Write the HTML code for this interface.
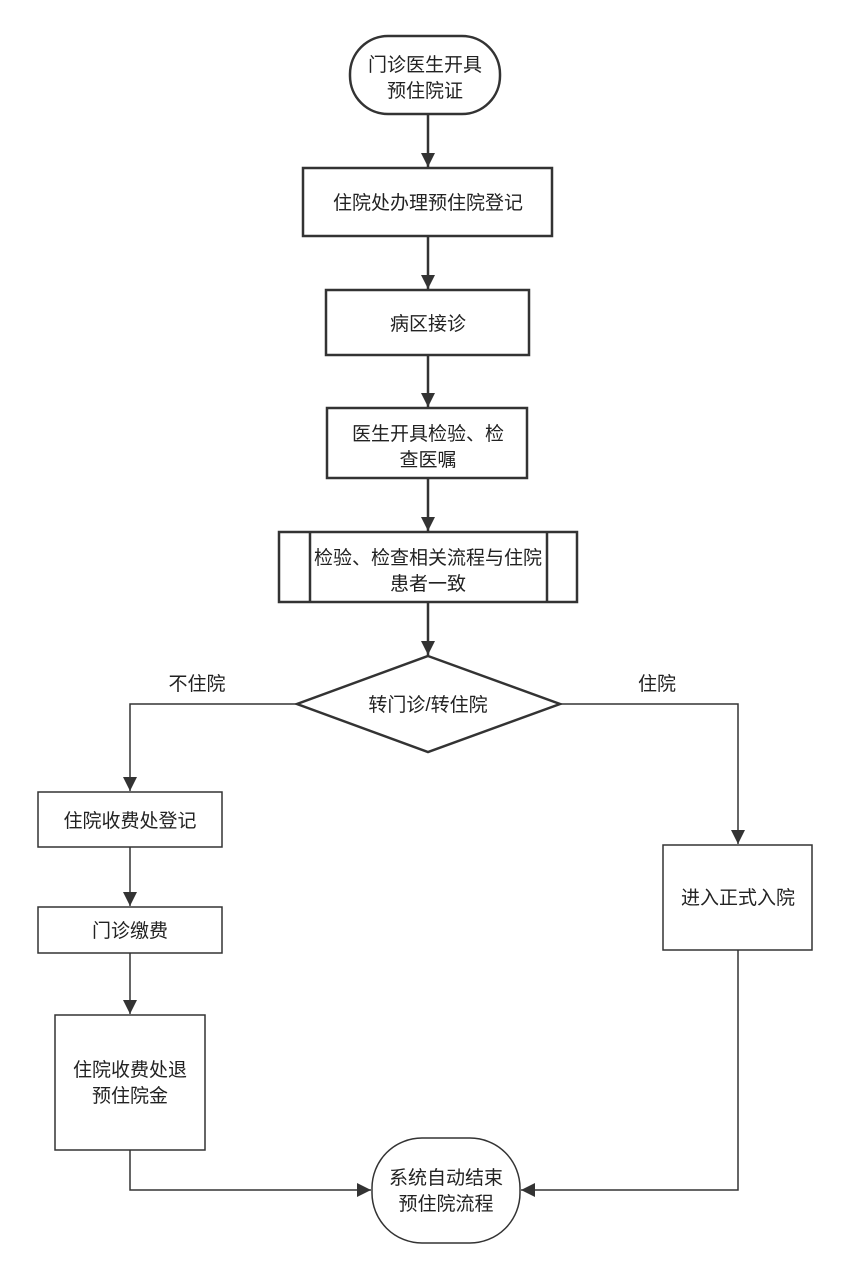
<!DOCTYPE html>
<html><head><meta charset="utf-8"><style>
html,body{margin:0;padding:0;background:#fff;}
text{font-family:"Liberation Sans","Noto Sans CJK SC",sans-serif;font-size:19px;fill:#222;}
</style></head><body>
<svg width="850" height="1281" xmlns="http://www.w3.org/2000/svg">
<defs>
<marker id="b" viewBox="0 0 10 10" markerWidth="14" markerHeight="16" refX="10" refY="5" orient="auto" markerUnits="userSpaceOnUse"><path d="M0,0 L10,5 L0,10 Z" fill="#333"/></marker></defs>
<g fill="none" stroke="#333" stroke-width="2.5">
<rect x="350" y="36" width="150" height="78" rx="38" ry="38"/>
<rect x="303" y="168" width="249" height="68"/>
<rect x="326" y="290" width="203" height="65"/>
<rect x="327" y="408" width="200" height="70"/>
<rect x="279" y="532" width="298" height="70"/>
<line x1="310" y1="532" x2="310" y2="602"/>
<line x1="547" y1="532" x2="547" y2="602"/>
<polygon points="428,656 560,704 428,752 297,704"/>
<rect x="38" y="792" width="184" height="55" stroke-width="1.5"/>
<rect x="38" y="907" width="184" height="46" stroke-width="1.5"/>
<rect x="55" y="1015" width="150" height="135" stroke-width="1.5"/>
<rect x="663" y="845" width="149" height="105" stroke-width="1.5"/>
<rect x="372" y="1138" width="148" height="105" rx="50" ry="50" stroke-width="1.5"/>
</g>
<g fill="none" stroke="#333" stroke-width="2.5">
<line x1="428" y1="114" x2="428" y2="167" marker-end="url(#b)"/>
<line x1="428" y1="236" x2="428" y2="289" marker-end="url(#b)"/>
<line x1="428" y1="355" x2="428" y2="407" marker-end="url(#b)"/>
<line x1="428" y1="478" x2="428" y2="531" marker-end="url(#b)"/>
<line x1="428" y1="602" x2="428" y2="655" marker-end="url(#b)"/>
</g>
<g fill="none" stroke="#333" stroke-width="1.5">
<polyline points="297,704 130,704 130,791" marker-end="url(#b)"/>
<polyline points="560,704 738,704 738,844" marker-end="url(#b)"/>
<line x1="130" y1="847" x2="130" y2="906" marker-end="url(#b)"/>
<line x1="130" y1="953" x2="130" y2="1014" marker-end="url(#b)"/>
<polyline points="130,1150 130,1190 371,1190" marker-end="url(#b)"/>
<polyline points="738,950 738,1190 521,1190" marker-end="url(#b)"/>
</g>
<g text-anchor="middle">
<text x="425" y="71">门诊医生开具</text><text x="425" y="97">预住院证</text>
<text x="428" y="209">住院处办理预住院登记</text>
<text x="428" y="330">病区接诊</text>
<text x="428" y="440">医生开具检验、检</text><text x="428" y="466">查医嘱</text>
<text x="428" y="564">检验、检查相关流程与住院</text><text x="428" y="590">患者一致</text>
<text x="428" y="711">转门诊/转住院</text>
<text x="197" y="690">不住院</text>
<text x="657" y="690">住院</text>
<text x="130" y="827">住院收费处登记</text>
<text x="130" y="937">门诊缴费</text>
<text x="130" y="1076">住院收费处退</text><text x="130" y="1102">预住院金</text>
<text x="738" y="904">进入正式入院</text>
<text x="446" y="1184">系统自动结束</text><text x="446" y="1210">预住院流程</text>
</g>
</svg>
</body></html>
